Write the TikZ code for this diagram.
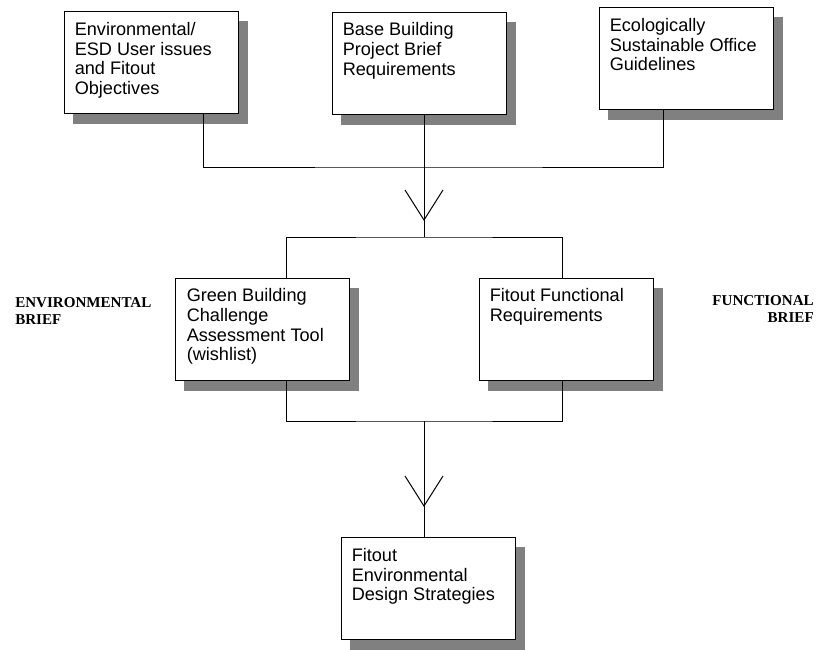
\documentclass[tikz,border=0pt]{standalone}
\usepackage{fontspec}
\setmainfont{Liberation Sans}
\newfontfamily\briefserif{Liberation Serif}
\usetikzlibrary{backgrounds}
\definecolor{shadowgray}{RGB}{128,128,128}

\begin{document}
\begin{tikzpicture}[x=0.75pt,y=0.75pt,yscale=-1,xscale=1,
  stepbox/.style={draw, line width=0.75pt, fill=white, minimum width=130.5pt, minimum height=76.5pt, inner sep=0pt},
  boxtext/.style={anchor=north west, inner sep=0pt, align=left, font=\fontsize{13.6}{14.7}\selectfont},
  sidelabel/.style={inner sep=0pt, font=\briefserif\bfseries\fontsize{11.3}{12.6}\selectfont},
  conn/.style={line width=0.75pt}]
\useasboundingbox (0,0) rectangle (819,650);

%Shape: Rectangle
\node[stepbox] (envuser) at (151,62.5) {};
%Shape: Rectangle
\node[stepbox] (basebrief) at (419,63) {};
%Shape: Rectangle
\node[stepbox] (esoguide) at (686,58.5) {};
%Shape: Rectangle
\node[stepbox] (gbctool) at (262,329) {};
%Shape: Rectangle
\node[stepbox] (fitfunc) at (566,329) {};
%Shape: Rectangle
\node[stepbox] (fitstrat) at (428,588.5) {};

%Shadows
\begin{scope}[on background layer]
\foreach \b in {envuser,basebrief,esoguide,gbctool,fitfunc,fitstrat}
  \fill[shadowgray] ([shift={(9,10)}]\b.north west) rectangle ([shift={(9,10)}]\b.south east);
\end{scope}

% Text Node
\node[boxtext] (envusertext) at ([shift={(11,11)}]envuser.north west) {Environmental/\\ESD User issues\\and Fitout\\Objectives};
% Text Node
\node[boxtext] (basebrieftext) at ([shift={(11,11)}]basebrief.north west) {Base Building\\Project Brief\\Requirements};
% Text Node
\node[boxtext] (esoguidetext) at ([shift={(11,11)}]esoguide.north west) {Ecologically\\Sustainable Office\\Guidelines};
% Text Node
\node[boxtext] (gbctooltext) at ([shift={(12,11)}]gbctool.north west) {Green Building\\Challenge\\Assessment Tool\\(wishlist)};
% Text Node
\node[boxtext] (fitfunctext) at ([shift={(11,11)}]fitfunc.north west) {Fitout Functional\\Requirements};
% Text Node
\node[boxtext] (fitstrattext) at ([shift={(11,11)}]fitstrat.north west) {Fitout\\Environmental\\Design Strategies};

% Text Node
\node[sidelabel, anchor=north west, align=left] (envbrief) at (15,297) {ENVIRONMENTAL\\BRIEF};
% Text Node
\node[sidelabel, anchor=north east, align=right] (funcbrief) at (814,295) {FUNCTIONAL\\BRIEF};

%Straight Lines
\coordinate (busA) at (424,167);
\coordinate (busB) at (424,237);
\coordinate (busC) at (424,421);
\coordinate (tipA) at (424,220);
\coordinate (tipB) at (424,506);

\draw[conn] ([xshift=39pt]envuser.south) |- (busA) -| ([xshift=-17.25pt]esoguide.south);
\draw[conn] ([xshift=3.75pt]basebrief.south) -- (busA);
\draw[conn] (busA) -- (busB);
\draw[conn] (tipA) ++(-19,-30) -- (tipA) -- ++(19,-30);
\draw[conn] ([xshift=18pt]gbctool.north) |- (busB) -| ([xshift=-3pt]fitfunc.north);

\draw[conn] ([xshift=18pt]gbctool.south) |- (busC) -| ([xshift=-3pt]fitfunc.south);
\draw[conn] (busC) -- (busC |- fitstrat.north);
\draw[conn] (tipB) ++(-19,-30) -- (tipB) -- ++(19,-30);

\end{tikzpicture}
\end{document}
